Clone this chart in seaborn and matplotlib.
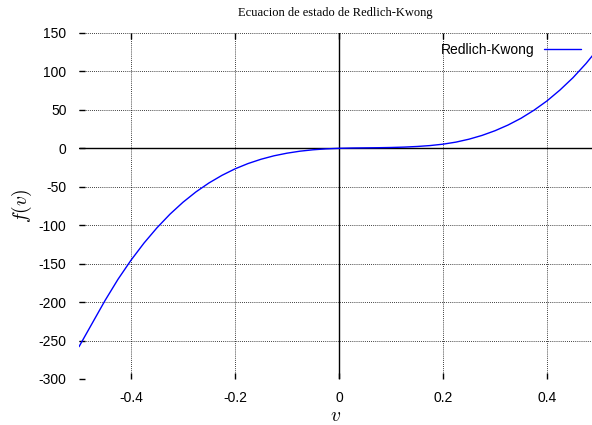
import matplotlib
matplotlib.use("Agg")
import matplotlib.pyplot as plt
import seaborn as sns
import pandas as pd

v_values = [-0.5, -0.475, -0.45, -0.425, -0.4, -0.375, -0.35, -0.325, -0.3, -0.275,
            -0.25, -0.225, -0.2, -0.175, -0.15, -0.125, -0.1, -0.075, -0.05, -0.025,
            0.0, 0.025, 0.05, 0.075, 0.1, 0.125, 0.15, 0.175, 0.2, 0.225,
            0.25, 0.275, 0.3, 0.325, 0.35, 0.375, 0.4, 0.425, 0.45, 0.475, 0.5]
f_values = [-258, -228, -198, -170.3, -145.5, -123.2, -103.3, -85.6, -70.1, -56.6,
            -45.0, -35.1, -26.7, -19.8, -14.2, -9.7, -6.3, -3.7, -1.9, -0.7,
            0.0, 0.4, 0.6, 0.8, 1.1, 1.6, 2.4, 3.6, 5.4, 8.1,
            11.9, 16.8, 22.9, 30.3, 39.1, 49.6, 61.7, 75.9, 91.9, 110.3, 131.0]
series_name = "Redlich-Kwong"
title_text = "Ecuacion de estado de Redlich-Kwong"
x_ticks = [-0.4, -0.2, 0, 0.2, 0.4]
x_tick_labels = ["-0.4", "-0.2", "0", "0.2", "0.4"]
y_ticks = [-300, -250, -200, -150, -100, -50, 0, 50, 100, 150]

df = pd.DataFrame({"v": v_values, "f": f_values, "serie": series_name})

sns.set_style("ticks")
plt.rcParams["font.family"] = ["Liberation Sans", "DejaVu Sans"]
plt.rcParams["mathtext.fontset"] = "cm"
plt.rcParams["axes.unicode_minus"] = False
plt.rcParams["text.color"] = "black"
plt.rcParams["axes.labelcolor"] = "black"
plt.rcParams["xtick.color"] = "black"
plt.rcParams["ytick.color"] = "black"

fig = plt.figure(figsize=(5.92, 4.25), dpi=100)
ax = fig.add_axes([79 / 592, 1 - 379 / 425, (592 - 79) / 592, (379 - 33) / 425])

sns.lineplot(data=df, x="v", y="f", hue="serie", palette=["#0000ff"], ax=ax,
             linewidth=1.0, zorder=5)

ax.set_xlim(-0.5, 0.4865)
ax.set_ylim(-300, 150)
ax.set_xticks(x_ticks)
ax.set_xticklabels(x_tick_labels)
ax.set_yticks(y_ticks)

for s in ax.spines.values():
    s.set_visible(False)

ax.grid(True, color="#000000", linestyle=(0, (1, 1.5)), linewidth=0.6)
ax.axhline(0, color="black", linewidth=1.0, zorder=3)
ax.axvline(0, color="black", linewidth=1.0, zorder=3)

ax.tick_params(axis="both", direction="in", length=4, width=1.0, color="black",
               labelsize=10, labelcolor="black", top=True, right=False)
ax.tick_params(axis="y", pad=9)
ax.tick_params(axis="x", pad=9)

ax.set_title(title_text, fontsize=9, family=["Liberation Serif"], pad=12, color="black")
ax.set_xlabel(r"$v$", fontsize=14, labelpad=2, color="black")
ax.set_ylabel(r"$f(v)$", fontsize=14, labelpad=3, color="black")

ax.legend(loc="upper right", frameon=False, markerfirst=False, fontsize=10,
          handlelength=2.65, handletextpad=0.7, borderaxespad=0.3,
          bbox_to_anchor=(0.998, 1.0))

fig.savefig("out.png", dpi=100)
